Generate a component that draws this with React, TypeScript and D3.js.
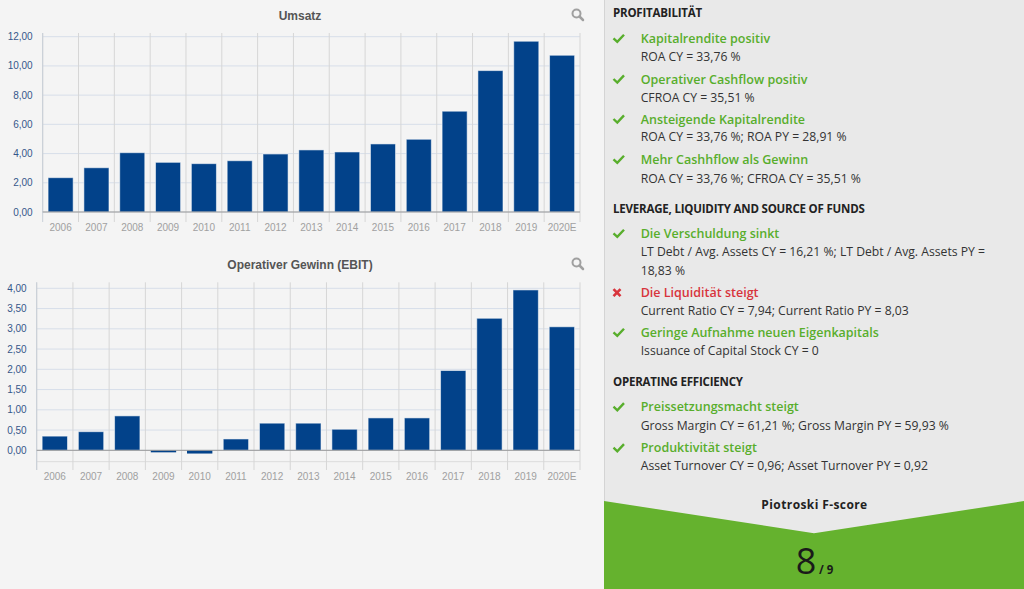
import React from 'react';
import * as d3 from 'd3';

const years = ['2006','2007','2008','2009','2010','2011','2012','2013','2014','2015','2016','2017','2018','2019','2020E'];
const umsatz = [2.35,3.03,4.06,3.40,3.31,3.51,3.97,4.25,4.11,4.66,4.98,6.90,9.68,11.69,10.73];
const ebit = [0.35,0.46,0.85,-0.05,-0.08,0.28,0.67,0.67,0.52,0.80,0.80,1.97,3.26,3.96,3.05];
const umsatzTicks = [0,2,4,6,8,10,12];
const ebitTicks = [0,0.5,1,1.5,2,2.5,3,3.5,4];

type Item = { kind: 'head' | 'ok' | 'fail' | 'text'; text: string; y: number };
const panelLines: Item[] = [
  { kind: 'head', text: 'PROFITABILITÄT', y: 12.7 },
  { kind: 'ok', text: 'Kapitalrendite positiv', y: 38.3 },
  { kind: 'text', text: 'ROA CY = 33,76 %', y: 56.7 },
  { kind: 'ok', text: 'Operativer Cashflow positiv', y: 79 },
  { kind: 'text', text: 'CFROA CY = 35,51 %', y: 97.7 },
  { kind: 'ok', text: 'Ansteigende Kapitalrendite', y: 119 },
  { kind: 'text', text: 'ROA CY = 33,76 %; ROA PY = 28,91 %', y: 136.7 },
  { kind: 'ok', text: 'Mehr Cashhflow als Gewinn', y: 159.3 },
  { kind: 'text', text: 'ROA CY = 33,76 %; CFROA CY = 35,51 %', y: 178.3 },
  { kind: 'head', text: 'LEVERAGE, LIQUIDITY AND SOURCE OF FUNDS', y: 209 },
  { kind: 'ok', text: 'Die Verschuldung sinkt', y: 233.3 },
  { kind: 'text', text: 'LT Debt / Avg. Assets CY = 16,21 %; LT Debt / Avg. Assets PY =', y: 251.7 },
  { kind: 'text', text: '18,83 %', y: 270.7 },
  { kind: 'fail', text: 'Die Liquidität steigt', y: 292.7 },
  { kind: 'text', text: 'Current Ratio CY = 7,94; Current Ratio PY = 8,03', y: 311 },
  { kind: 'ok', text: 'Geringe Aufnahme neuen Eigenkapitals', y: 332.3 },
  { kind: 'text', text: 'Issuance of Capital Stock CY = 0', y: 351 },
  { kind: 'head', text: 'OPERATING EFFICIENCY', y: 381.7 },
  { kind: 'ok', text: 'Preissetzungsmacht steigt', y: 406.7 },
  { kind: 'text', text: 'Gross Margin CY = 61,21 %; Gross Margin PY = 59,93 %', y: 425.7 },
  { kind: 'ok', text: 'Produktivität steigt', y: 447.7 },
  { kind: 'text', text: 'Asset Turnover CY = 0,96; Asset Turnover PY = 0,92', y: 466 },
];
const scoreValue = '8';
const scoreMax = '/ 9';
const scoreLabel = 'Piotroski F-score';

const fmt = (v: number) => d3.format('.2f')(v).replace('.', ',');

type ChartProps = {
  title: string; values: number[]; ticks: number[];
  left: number; right: number; y0: number; yTopVal: number; yTopPx: number;
  plotTop: number; plotBottom: number; tickBottom: number; labelY: number; titleY: number;
  bottomLine?: number;
};

function BarChart(p: ChartProps) {
  const x = d3.scaleBand<string>().domain(years).range([p.left, p.right]).paddingInner(0.3).paddingOuter(0.15);
  const y = d3.scaleLinear().domain([0, p.yTopVal]).range([p.y0, p.yTopPx]);
  const step = x.step();
  const bounds = d3.range(years.length + 1).map(i => p.left + i * step);
  const font = 'Arial, "Liberation Sans", sans-serif';
  return (
    <g>
      <text x={300} y={p.titleY} textAnchor="middle" fontFamily={font} fontSize={12} fontWeight="bold" fill="#555">{p.title}</text>
      <g transform={`translate(578,${p.titleY - 5})`} stroke="#a0a0a0" fill="none">
        <circle cx={-1.5} cy={-1.5} r={4} strokeWidth={2} />
        <line x1={1.5} y1={1.5} x2={5} y2={5} strokeWidth={2.5} strokeLinecap="round" />
      </g>
      {p.ticks.map(t => (
        <line key={'h' + t} x1={p.left} x2={p.right} y1={y(t)} y2={y(t)} stroke="#d7dee9" strokeWidth={1} />
      ))}
      {p.bottomLine !== undefined && (
        <line x1={p.left} x2={p.right} y1={p.bottomLine} y2={p.bottomLine} stroke="#dcdcdc" strokeWidth={1} />
      )}
      {bounds.map((b, i) => (
        <line key={'v' + i} x1={b} x2={b} y1={p.plotTop} y2={i === 0 ? p.plotBottom : p.tickBottom} stroke="#d6d6d6" strokeWidth={1} />
      ))}
      <line x1={p.left} x2={p.left} y1={p.plotTop} y2={p.tickBottom} stroke="#c8cfd8" strokeWidth={1} />
      {p.values.map((v, i) => {
        const yy = Math.min(y(v), y(0));
        const h = Math.abs(y(v) - y(0));
        return (
          <rect key={'b' + i} x={x(years[i])} y={yy} width={x.bandwidth()} height={Math.max(h, 1)}
            fill="#02428a" stroke="#ffffff" strokeOpacity={h > 6 ? 0.55 : 0} strokeWidth={1} />
        );
      })}
      <line x1={p.left} x2={p.right} y1={y(0)} y2={y(0)} stroke="#999" strokeWidth={1} />
      {p.ticks.map(t => (
        <text key={'t' + t} x={p.left - 10} y={y(t) + 3.5} textAnchor="end" fontFamily={font} fontSize={10} fill="#34578a">{fmt(t)}</text>
      ))}
      {years.map(yr => (
        <text key={'x' + yr} x={(x(yr) as number) + x.bandwidth() / 2} y={p.labelY} textAnchor="middle" fontFamily={font} fontSize={10} fill="#a0a0a0">{yr}</text>
      ))}
    </g>
  );
}

export default function App() {
  const pf = '"Open Sans", "Noto Sans", sans-serif';
  const green = '#58ae2c';
  return (
    <svg width={1024} height={589} style={{ position: 'fixed', left: 0, top: 0, display: 'block' }}>
      <rect x={0} y={0} width={1024} height={589} fill="#f4f4f4" />
      <BarChart title="Umsatz" values={umsatz} ticks={umsatzTicks} left={42.7} right={580} y0={212} yTopVal={12} yTopPx={36.7}
        plotTop={33} plotBottom={212} tickBottom={222} labelY={231} titleY={20} />
      <BarChart title="Operativer Gewinn (EBIT)" values={ebit} ticks={ebitTicks} left={36.7} right={580} y0={450.3} yTopVal={4} yTopPx={288.3}
        plotTop={282.3} plotBottom={470} tickBottom={470} labelY={480} titleY={269} bottomLine={461.7} />

      <rect x={604} y={0} width={420} height={589} fill="#e9e9e9" />
      <line x1={604.5} x2={604.5} y1={0} y2={589} stroke="#d4d4d4" />
      {panelLines.map((l, i) => {
        if (l.kind === 'head') {
          return <text key={i} x={613} y={l.y + 4} fontFamily={pf} fontSize={11.5} fontWeight={700} fill="#222" letterSpacing={-0.2}>{l.text}</text>;
        }
        if (l.kind === 'text') {
          return <text key={i} x={640.7} y={l.y + 4.3} fontFamily={pf} fontSize={12.2} fill="#333">{l.text}</text>;
        }
        const col = l.kind === 'ok' ? green : '#d8343c';
        return (
          <g key={i}>
            {l.kind === 'ok' ? (
              <path d={`M613.5,${l.y} L617.3,${l.y + 3.6} L624,${l.y - 3.6}`} fill="none" stroke={col} strokeWidth={2.4} strokeLinejoin="miter" />
            ) : (
              <g stroke={col} strokeWidth={2.6}>
                <line x1={613.5} y1={l.y - 3.5} x2={620.5} y2={l.y + 3.5} />
                <line x1={620.5} y1={l.y - 3.5} x2={613.5} y2={l.y + 3.5} />
              </g>
            )}
            <text x={640.7} y={l.y + 4.5} fontFamily={pf} fontSize={12.5} fontWeight={600} fill={col}>{l.text}</text>
          </g>
        );
      })}
      <path d="M604,501 L814,533.3 L1024,501 L1024,589 L604,589 Z" fill="#65b22e" />
      <text x={814.5} y={508.5} textAnchor="middle" fontFamily={pf} fontSize={12} fontWeight={700} fill="#222" letterSpacing={0.4}>{scoreLabel}</text>
      <text x={806} y={574} textAnchor="middle" fontFamily={pf} fontSize={36} fill="#1a1a1a">{scoreValue}</text>
      <text x={819} y={574} fontFamily={pf} fontSize={11.5} fontWeight={700} fill="#1a1a1a">{scoreMax}</text>
    </svg>
  );
}
